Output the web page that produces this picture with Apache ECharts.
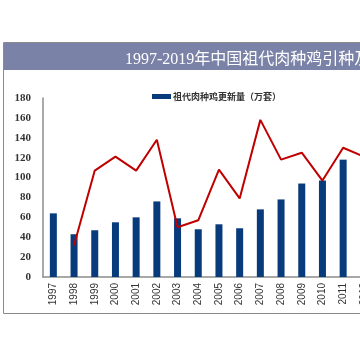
<!DOCTYPE html>
<html>
<head>
<meta charset="utf-8">
<script src="https://cdn.jsdelivr.net/npm/echarts@6/dist/echarts.min.js"></script>
<style>
html,body{margin:0;padding:0;background:#fff;overflow:hidden;width:360px;height:360px;}
#c{width:400px;height:360px;}
</style>
</head>
<body>
<div id="c"></div>
<script>
const titleText = '1997-2019年中国祖代肉种鸡引种及更新量';
const categories = ['1997','1998','1999','2000','2001','2002','2003','2004','2005','2006','2007','2008','2009','2010','2011','2012'];
const renewName = '祖代肉种鸡更新量（万套）';
const renewValues = [64,43,47,55,60,76,59,48,53,49,68,78,94,97,118,134];
const importName = '祖代肉种鸡引种量（万套）';
const importValues = [null,32,107,121,107,138,50,57,108,79,158,118,125,97,130,121];
const yTicks = {min:0, max:180, interval:20};

const chart = echarts.init(document.getElementById('c'), null, {renderer:'canvas'});
chart.setOption({
  animation:false,
  backgroundColor:'#fff',
  graphic:[
    {type:'rect', z:-10, shape:{x:3.5,y:42.5,width:520,height:271}, style:{fill:'#fff', stroke:'#8a8a8a', lineWidth:1}},
    {type:'rect', z:-9, shape:{x:4,y:43,width:520,height:27}, style:{fill:'#7b82a8'}}
  ],
  title:{
    text:titleText, left:120, top:47,
    textStyle:{color:'#fff', fontSize:16, fontWeight:'normal', fontFamily:'"Liberation Serif","Noto Sans CJK SC",serif'}
  },
  legend:{
    data:[renewName], left:147, top:87,
    itemWidth:19, itemHeight:5, itemGap:4,
    icon:'rect',
    textStyle:{fontSize:9, color:'#333', fontWeight:'bold', fontFamily:'"Noto Sans CJK SC",sans-serif', padding:[0,0,0,-3]}
  },
  grid:{left:43, top:98, bottom:83, right:25.8, containLabel:false},
  xAxis:{
    type:'category', data:categories, boundaryGap:true,
    axisLine:{lineStyle:{color:'#8c8c8c', width:1.5}},
    axisTick:{show:false},
    axisLabel:{rotate:90, margin:6, fontSize:10, color:'#333', fontFamily:'"Liberation Sans",Arial,sans-serif', interval:0}
  },
  yAxis:{
    type:'value', min:yTicks.min, max:yTicks.max, interval:yTicks.interval,
    axisLine:{show:true, lineStyle:{color:'#8c8c8c', width:1.5}},
    axisTick:{show:false},
    splitLine:{show:false},
    axisLabel:{margin:12, fontSize:11, color:'#333', fontWeight:'bold', fontFamily:'"Liberation Serif","Times New Roman",serif'}
  },
  series:[
    {name:renewName, type:'bar', data:renewValues, barWidth:7, itemStyle:{color:'#073b7b'}},
    {name:importName, type:'line', data:importValues, showSymbol:false, symbol:'none', lineStyle:{color:'#c00000', width:2}, itemStyle:{color:'#c00000'}, z:3}
  ]
});
</script>
</body>
</html>
